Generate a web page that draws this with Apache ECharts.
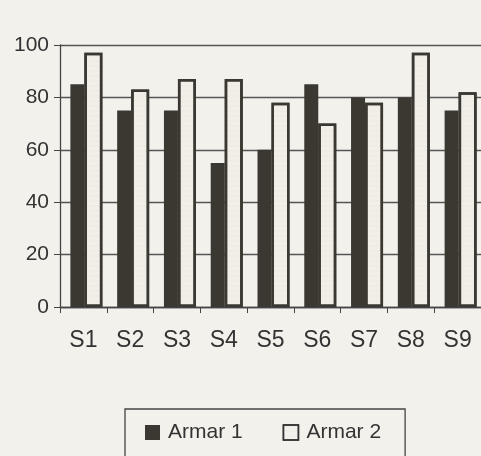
<!DOCTYPE html>
<html><head><meta charset="utf-8">
<script src="https://cdn.jsdelivr.net/npm/echarts@6/dist/echarts.min.js"></script>
<style>html,body{margin:0;padding:0;background:#f3f1ec;}#c{width:481px;height:456px;}</style>
</head><body><div id="c"></div>
<script>
const categories = ['S1','S2','S3','S4','S5','S6','S7','S8','S9'];
const armar1 = [85, 75, 75, 55, 60, 85, 80, 80, 75];
const armar2 = [97, 83, 87, 87, 78, 70, 78, 97, 82];
const yTicks = [0, 20, 40, 60, 80, 100];

const chart = echarts.init(document.getElementById('c'));
chart.setOption({
  backgroundColor: '#f3f1ec',
  animation: false,
  textStyle: { fontFamily: 'Liberation Sans, Arial, sans-serif' },
  grid: { left: 60, right: 0, top: 45, bottom: 149 },
  legend: {
    top: 409, left: 125,
    itemWidth: 15, itemHeight: 15, itemGap: 40,
    padding: [13, 24, 30, 20],
    borderColor: '#444', borderWidth: 1.3,
    textStyle: { fontSize: 21, color: '#333', padding: [0, 0, 0, 3] },
    data: [
      { name: 'Armar 1', icon: 'rect' },
      { name: 'Armar 2', icon: 'rect', itemStyle: { color: '#f3f1ec', borderColor: '#333', borderWidth: 1.5 } }
    ]
  },
  xAxis: {
    type: 'category', data: categories,
    axisLine: { lineStyle: { color: '#444', width: 1.3 } },
    axisTick: { show: true, length: 6, lineStyle: { color: '#444' } },
    axisLabel: { fontSize: 23, color: '#333', margin: 22 }
  },
  yAxis: {
    type: 'value', min: yTicks[0], max: yTicks[yTicks.length - 1], interval: 20,
    axisLine: { show: true, lineStyle: { color: '#444', width: 1.3 } },
    axisTick: { show: true, length: 6, inside: false, lineStyle: { color: '#444' } },
    axisLabel: { fontSize: 21, color: '#333', margin: 11 },
    splitLine: { show: true, lineStyle: { color: '#555', width: 1.3 } }
  },
  series: [
    {
      name: 'spacer', type: 'bar', data: [],
      barWidth: 6, barGap: '0%', silent: true,
      itemStyle: { color: 'transparent' }
    },
    {
      name: 'Armar 1', type: 'bar', data: armar1,
      barWidth: 14, barGap: '0%',
      itemStyle: { color: '#3a3830' }
    },
    {
      name: 'Armar 2', type: 'bar', data: armar2,
      barWidth: 18, barGap: '0%',
      itemStyle: {
        color: '#f1efe8', borderColor: '#3a3830', borderWidth: 2.5,
        decal: { symbol: 'circle', symbolSize: 0.3, dashArrayX: [1, 0], dashArrayY: [2, 3], color: 'rgba(80,80,70,0.35)' }
      }
    }
  ]
});
</script></body></html>
